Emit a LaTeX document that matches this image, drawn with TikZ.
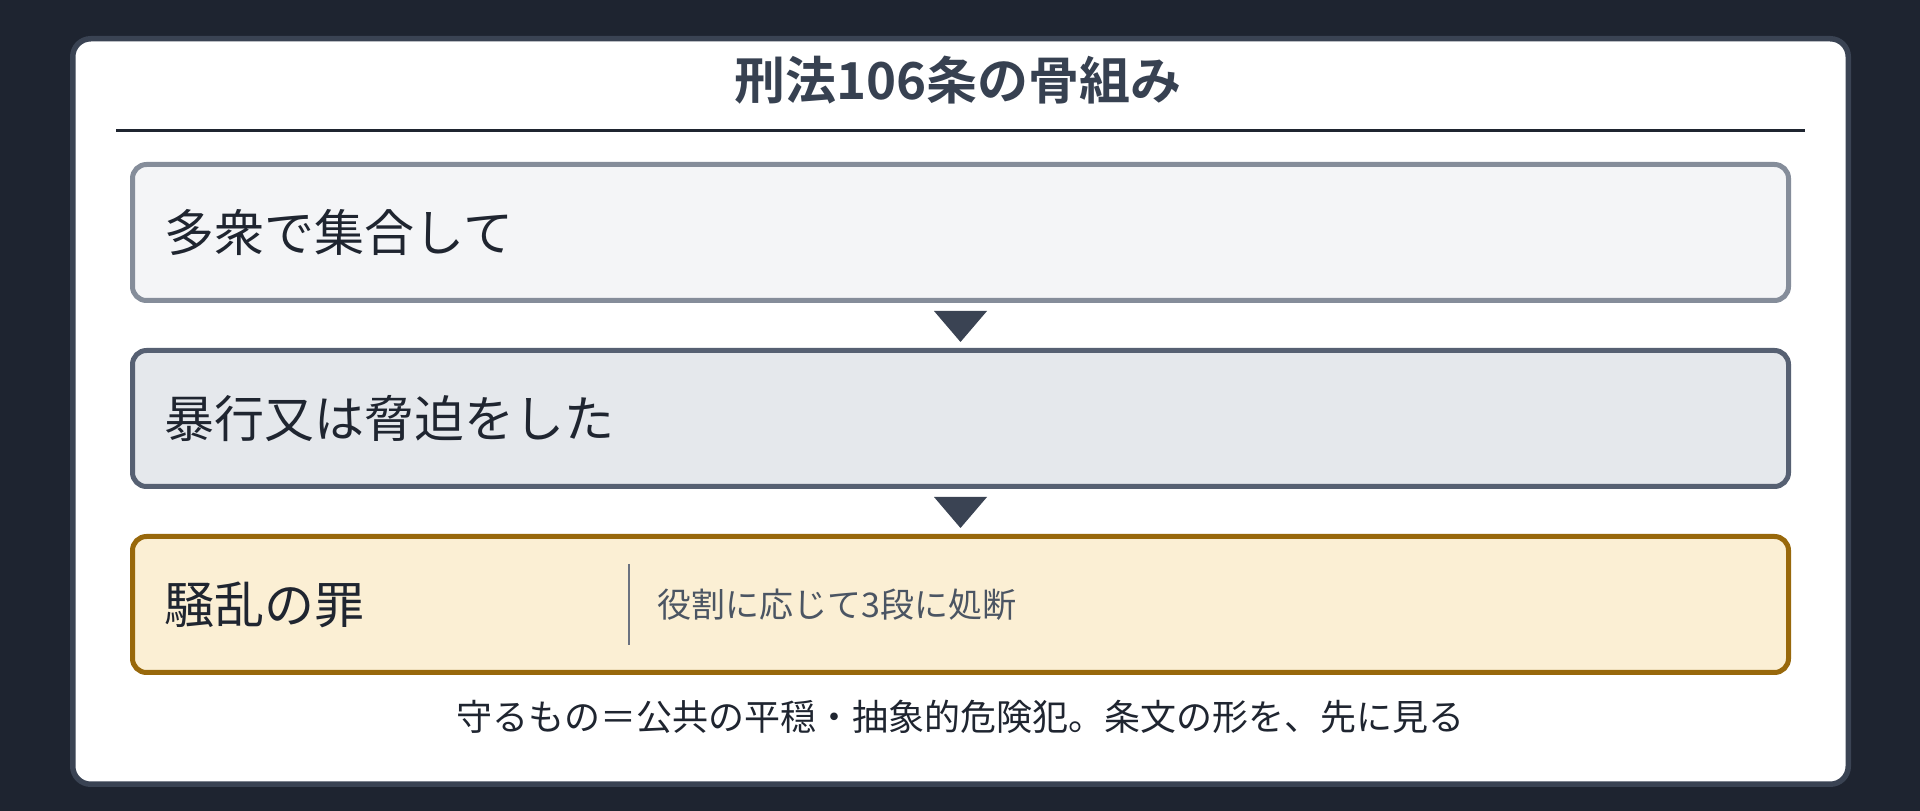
\documentclass[tikz,border=0pt]{standalone}
\usepackage{fontspec}
\setmainfont{Noto Sans CJK JP}
\newfontfamily\headfont{Noto Sans CJK JP Bold}
\usetikzlibrary{calc, positioning}

\definecolor{bgdark}{HTML}{1E2430}
\definecolor{cardline}{HTML}{3A4353}
\definecolor{ink}{HTML}{1F2530}
\definecolor{headink}{HTML}{374151}
\definecolor{subink}{HTML}{4B5563}
\definecolor{divline}{HTML}{6B7280}
\definecolor{grayline}{HTML}{858D9A}
\definecolor{grayfill}{HTML}{F4F5F7}
\definecolor{slateline}{HTML}{566072}
\definecolor{slatefill}{HTML}{E5E8EC}
\definecolor{goldline}{HTML}{98680B}
\definecolor{goldfill}{HTML}{FBEFD4}

\tikzset{
	stepbox/.style={draw, line width=5pt, rounded corners=14pt, outer sep=0pt,
		minimum width=1656pt, minimum height=136pt, text width=1592pt,
		inner xsep=32pt, align=left, text=ink, font=\fontsize{50}{60}\selectfont},
	headtext/.style={text=headink, inner sep=0pt, font=\headfont\fontsize{51}{60}\selectfont},
	subtext/.style={text=subink, inner sep=0pt, anchor=west, font=\fontsize{34}{42}\selectfont},
	notetext/.style={text=ink, inner sep=0pt, font=\fontsize{36}{44}\selectfont},
}

\begin{document}
\begin{tikzpicture}[x=1pt, y=1pt]
	\def\W{1920}
	\def\H{811}
	\def\gap{50pt}
	\useasboundingbox (0,0) rectangle (\W,\H);
	\fill[bgdark] (0,0) rectangle (\W,\H);

	% card
	\draw[cardline, fill=white, line width=5.5pt, rounded corners=18pt] (72.75,26.75) rectangle (1848.25,772.25);

	\node[headtext] (title) at (958,730.5) {刑法106条の骨組み};
	\coordinate (ruleL) at (116,680.5);
	\coordinate (ruleR) at (1805,680.5);
	\draw[ink, line width=3pt] (ruleL) -- (ruleR);

	% steps
	\node[stepbox, draw=grayline, fill=grayfill] (gather) at (960.5,578.5) {多衆で集合して};
	\node[stepbox, draw=slateline, fill=slatefill, below=\gap of gather] (violence) {暴行又は脅迫をした};
	\node[stepbox, draw=goldline, fill=goldfill, below=\gap of violence] (crime) {騒乱の罪};

	\foreach \a/\b in {gather/violence, violence/crime}{
		\coordinate (mid) at ($(\a.south)!0.5!(\b.north)$);
		\fill[cardline] ($(mid)+(-26.5,14.5)$) -- ($(mid)+(26.5,14.5)$) -- ($(mid)+(0,-16.5)$) -- cycle;
	}

	\draw[divline, line width=2.5pt] ($(crime.west)+(496.5,40.5)$) -- ($(crime.west)+(496.5,-40.5)$);
	\node[subtext] (penalty) at ($(crime.west)+(525,0)$) {役割に応じて3段に処断};

	\node[notetext] (note) at (960,94) {守るもの＝公共の平穏・抽象的危険犯。条文の形を、先に見る};
\end{tikzpicture}
\end{document}
